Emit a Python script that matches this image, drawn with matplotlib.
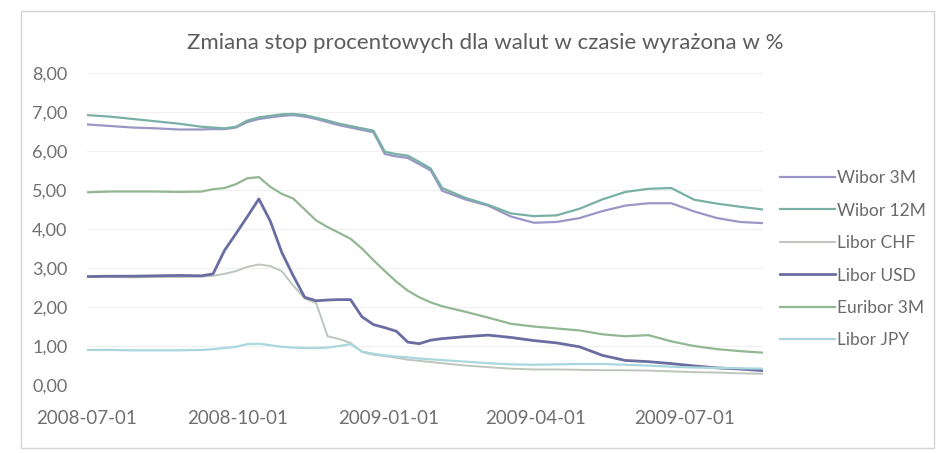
import matplotlib.pyplot as plt
import matplotlib.dates as mdates
import pandas as pd
from matplotlib.patches import Rectangle

plt.rcParams['font.family'] = ['Lato', 'DejaVu Sans']

dates = pd.to_datetime([
    "2008-07-01", "2008-07-15", "2008-07-29", "2008-08-12", "2008-08-26",
    "2008-09-09", "2008-09-16", "2008-09-23", "2008-09-30", "2008-10-07",
    "2008-10-14", "2008-10-21", "2008-10-28", "2008-11-04", "2008-11-11",
    "2008-11-18", "2008-11-25", "2008-12-02", "2008-12-09", "2008-12-16",
    "2008-12-23", "2008-12-30", "2009-01-06", "2009-01-13", "2009-01-20",
    "2009-01-27", "2009-02-03", "2009-02-17", "2009-03-03", "2009-03-17",
    "2009-03-31", "2009-04-14", "2009-04-28", "2009-05-12", "2009-05-26",
    "2009-06-09", "2009-06-23", "2009-07-07", "2009-07-21", "2009-08-04",
    "2009-08-18",
])

wibor_3m = [6.68, 6.64, 6.60, 6.58, 6.55, 6.55, 6.56, 6.56, 6.60, 6.74,
            6.82, 6.86, 6.90, 6.92, 6.88, 6.82, 6.74, 6.66, 6.60, 6.54,
            6.48, 5.92, 5.86, 5.82, 5.66, 5.50, 4.98, 4.76, 4.60, 4.32,
            4.16, 4.18, 4.28, 4.46, 4.60, 4.66, 4.66, 4.45, 4.28, 4.18,
            4.15]
wibor_12m = [6.92, 6.88, 6.82, 6.76, 6.70, 6.62, 6.60, 6.58, 6.62, 6.78,
             6.86, 6.90, 6.94, 6.95, 6.92, 6.85, 6.78, 6.70, 6.64, 6.58,
             6.52, 5.98, 5.92, 5.88, 5.72, 5.55, 5.05, 4.80, 4.62, 4.40,
             4.33, 4.35, 4.52, 4.76, 4.95, 5.03, 5.05, 4.75, 4.65, 4.57,
             4.50]
libor_chf = [2.78, 2.77, 2.76, 2.77, 2.77, 2.78, 2.80, 2.85, 2.92, 3.03,
             3.09, 3.05, 2.92, 2.55, 2.22, 2.10, 1.25, 1.18, 1.08, 0.85,
             0.78, 0.74, 0.70, 0.65, 0.62, 0.59, 0.56, 0.50, 0.46, 0.42,
             0.40, 0.40, 0.39, 0.38, 0.38, 0.37, 0.35, 0.33, 0.32, 0.30,
             0.29]
libor_usd = [2.78, 2.79, 2.79, 2.80, 2.81, 2.80, 2.85, 3.45, 3.88, 4.32,
             4.77, 4.20, 3.40, 2.80, 2.25, 2.16, 2.18, 2.19, 2.19, 1.75,
             1.55, 1.47, 1.38, 1.10, 1.06, 1.15, 1.19, 1.24, 1.28, 1.22,
             1.14, 1.08, 0.98, 0.76, 0.63, 0.60, 0.55, 0.49, 0.44, 0.41,
             0.37]
euribor_3m = [4.94, 4.96, 4.96, 4.96, 4.95, 4.96, 5.02, 5.05, 5.15, 5.30,
              5.33, 5.08, 4.90, 4.78, 4.50, 4.22, 4.05, 3.90, 3.75, 3.50,
              3.20, 2.92, 2.65, 2.42, 2.25, 2.12, 2.02, 1.88, 1.73, 1.57,
              1.50, 1.45, 1.40, 1.30, 1.25, 1.28, 1.12, 1.00, 0.92, 0.87,
              0.83]
libor_jpy = [0.90, 0.90, 0.89, 0.89, 0.89, 0.90, 0.92, 0.95, 0.98, 1.05,
             1.06, 1.02, 0.98, 0.96, 0.95, 0.95, 0.96, 1.00, 1.05, 0.86,
             0.80, 0.76, 0.73, 0.71, 0.68, 0.66, 0.64, 0.60, 0.56, 0.53,
             0.52, 0.53, 0.54, 0.54, 0.52, 0.50, 0.47, 0.45, 0.44, 0.43,
             0.42]

series = [
    ("Wibor 3M", wibor_3m, "#9a97c6", 1.6),
    ("Wibor 12M", wibor_12m, "#79b0a5", 1.6),
    ("Libor CHF", libor_chf, "#bcc6bc", 1.4),
    ("Libor USD", libor_usd, "#6a6da2", 2.0),
    ("Euribor 3M", euribor_3m, "#93b793", 1.6),
    ("Libor JPY", libor_jpy, "#aad6de", 1.6),
]
tick_dates = pd.to_datetime(["2008-07-01", "2008-10-01", "2009-01-01",
                             "2009-04-01", "2009-07-01"])

fig = plt.figure(figsize=(9.4, 4.53), dpi=100)
fig.patches.append(Rectangle((0.022, 0.01), 0.972, 0.965, transform=fig.transFigure,
                             fill=False, edgecolor="#d4d4d4", linewidth=1))
ax = fig.add_axes([0.0926, 0.150, 0.719, 0.689])

for name, vals, color, lw in series:
    ax.plot(dates, vals, color=color, linewidth=lw, label=name)

ax.set_ylim(0, 8)
ax.set_xlim(dates[0], dates[-1])
ax.set_yticks(range(0, 9))
ax.set_yticklabels([f"{v:.2f}".replace(".", ",") for v in range(0, 9)])
ax.set_xticks(tick_dates)
ax.xaxis.set_major_formatter(mdates.DateFormatter("%Y-%m-%d"))
ax.grid(axis="y", color="#f0f0f0", linewidth=0.8)
ax.set_axisbelow(True)
for s in ax.spines.values():
    s.set_visible(False)
ax.tick_params(length=0, colors="#707070")
ax.tick_params(axis="x", labelsize=13.5, pad=18)
ax.tick_params(axis="y", labelsize=13, pad=14)

fig.text(0.516, 0.905, "Zmiana stop procentowych dla walut w czasie wyrażona w %",
         ha="center", va="center", fontsize=16, color="#5c5c5c")

leg = ax.legend(loc="upper left", bbox_to_anchor=(0.822, 0.64), bbox_transform=fig.transFigure,
                frameon=False, fontsize=12.5, handlelength=3.2, handletextpad=0.1,
                labelspacing=0.95, borderaxespad=0)
for t in leg.get_texts():
    t.set_color("#6a6a6a")

fig.savefig("out.png", dpi=100)
